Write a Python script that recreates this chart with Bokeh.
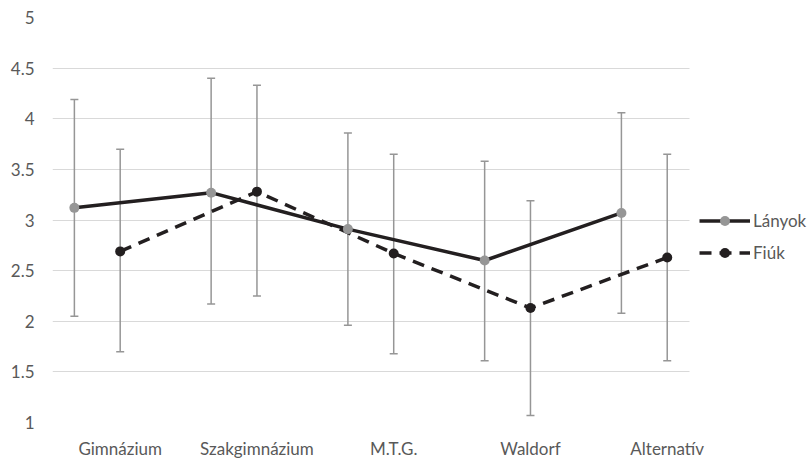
from bokeh.plotting import figure
from bokeh.models import Range1d, FixedTicker, Legend, LegendItem, ColumnDataSource, BoxAnnotation
from bokeh.transform import dodge
from bokeh.embed import file_html
from bokeh.resources import INLINE

categories = ["Gimnázium", "Szakgimnázium", "M.T.G.", "Waldorf", "Alternatív"]
lanyok_mean = [3.12, 3.27, 2.91, 2.60, 3.07]
lanyok_upper = [4.19, 4.40, 3.86, 3.58, 4.06]
lanyok_lower = [2.05, 2.17, 1.96, 1.61, 2.08]
fiuk_mean = [2.69, 3.28, 2.67, 2.13, 2.63]
fiuk_upper = [3.70, 4.33, 3.65, 3.19, 3.65]
fiuk_lower = [1.70, 2.25, 1.68, 1.07, 1.61]
y_ticks = [1, 1.5, 2, 2.5, 3, 3.5, 4, 4.5, 5]

idx = list(range(len(categories)))
src_l = ColumnDataSource(dict(x=idx, y=lanyok_mean, up=lanyok_upper, lo=lanyok_lower))
src_f = ColumnDataSource(dict(x=idx, y=fiuk_mean, up=fiuk_upper, lo=fiuk_lower))

FONT = "Lato"
TXT = "#595959"
LINE = "#231f20"
ERR = "#969696"

X_START, PLOT_END, X_END = -0.495, 4.163, 5.055

p = figure(width=811, height=461, output_backend="svg", toolbar_location=None,
           x_range=Range1d(X_START, X_END), y_range=Range1d(1, 5),
           min_border_left=52, min_border_right=0, min_border_top=17, min_border_bottom=36)
p.outline_line_color = None
p.xgrid.grid_line_color = None
p.ygrid.grid_line_color = "#d9d9d9"
p.ygrid.grid_line_width = 1

# blank out grid beyond the plot area (legend area)
p.add_layout(BoxAnnotation(left=PLOT_END, fill_color="white", fill_alpha=1,
                           line_color=None, level="underlay"))

p.xaxis.ticker = FixedTicker(ticks=idx)
p.xaxis.major_label_overrides = {i: c for i, c in zip(idx, categories)}
p.yaxis.ticker = FixedTicker(ticks=y_ticks)
p.yaxis.major_label_overrides = {t: f"{t:g}" for t in y_ticks}
for ax in (p.xaxis, p.yaxis):
    ax.axis_line_color = None
    ax.major_tick_line_color = None
    ax.minor_tick_line_color = None
    ax.major_tick_out = 0
    ax.major_tick_in = 0
    ax.minor_tick_out = 0
    ax.major_label_text_font = FONT
    ax.major_label_text_font_size = "17px"
    ax.major_label_text_color = TXT
p.xaxis.major_label_standoff = 15
p.yaxis.major_label_standoff = 18

off = -0.335
xl = dodge("x", off, range=p.x_range)

# error bars
for src, xs in ((src_l, xl), (src_f, "x")):
    p.segment(x0=xs, x1=xs, y0="lo", y1="up", source=src, line_color=ERR, line_width=1.5)
    p.scatter(x=xs, y="up", source=src, marker="dash", size=8, line_color=ERR, line_width=1.5)
    p.scatter(x=xs, y="lo", source=src, marker="dash", size=8, line_color=ERR, line_width=1.5)

ln_l = p.line(x=xl, y="y", source=src_l, line_color=LINE, line_width=3.5)
ln_f = p.line(x="x", y="y", source=src_f, line_color=LINE, line_width=3.5, line_dash="12 8")
sc_l = p.scatter(x=xl, y="y", source=src_l, size=10, fill_color="#969696", line_color=None)
sc_f = p.scatter(x="x", y="y", source=src_f, size=10, fill_color=LINE, line_color=None)

legend = Legend(items=[LegendItem(label="Lányok", renderers=[ln_l, sc_l]),
                       LegendItem(label="Fiúk", renderers=[ln_f, sc_f])],
                location=(647, 157), glyph_width=51, glyph_height=25, label_height=24,
                spacing=7, label_standoff=3, padding=0, margin=0,
                border_line_color=None, background_fill_alpha=0,
                label_text_font=FONT, label_text_font_size="17px", label_text_color=TXT)
p.add_layout(legend, "center")

open("out.html", "w").write(file_html(p, INLINE))
